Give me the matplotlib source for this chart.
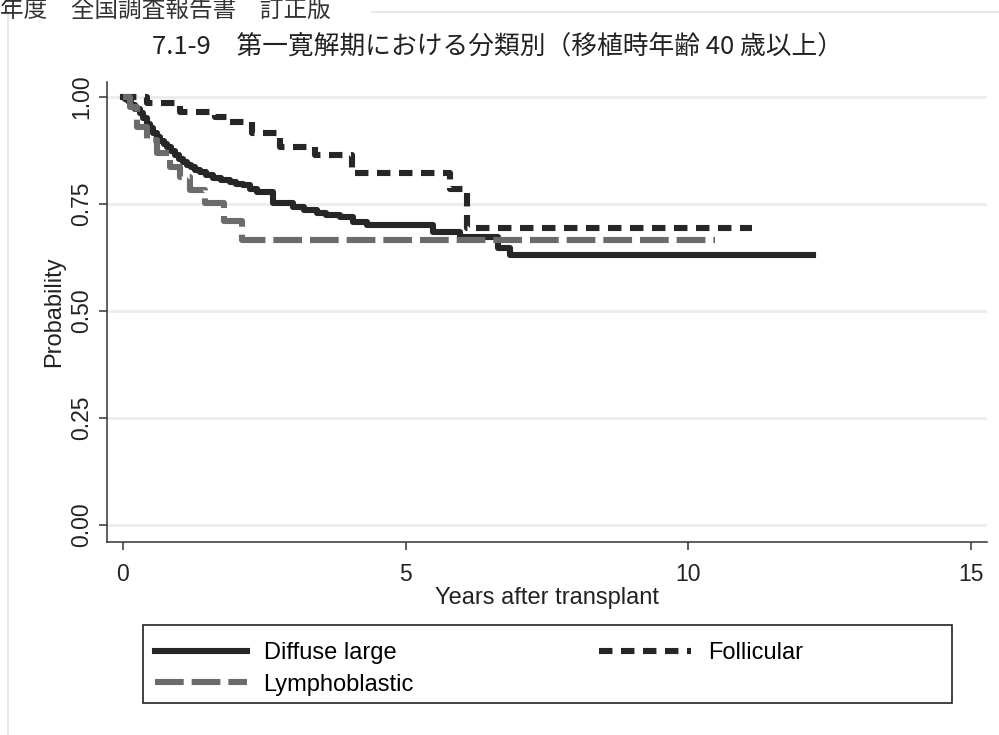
import matplotlib
matplotlib.use("Agg")
import matplotlib.pyplot as plt
from matplotlib.lines import Line2D
from matplotlib.patches import Rectangle

plt.rcParams["font.family"] = ["Liberation Sans", "DejaVu Sans"]
CJK = ["Noto Sans CJK JP", "DejaVu Sans"]

# Kaplan-Meier step data (years, probability)
diffuse_t = [0, 0.04, 0.08, 0.15, 0.22, 0.30, 0.36, 0.42, 0.48, 0.53, 0.60,
             0.66, 0.72, 0.78, 0.85, 0.92, 0.99, 1.06, 1.13, 1.20, 1.28,
             1.36, 1.47, 1.59, 1.74, 1.89, 2.00, 2.12, 2.25, 2.37, 2.65,
             3.01, 3.20, 3.43, 3.60, 3.84, 4.07, 4.32, 5.49, 5.96, 6.64,
             6.85]
diffuse_s = [1.0, 0.996, 0.990, 0.982, 0.973, 0.963, 0.950, 0.938, 0.927,
             0.916, 0.906, 0.897, 0.890, 0.883, 0.873, 0.864, 0.856, 0.848,
             0.842, 0.836, 0.830, 0.825, 0.818, 0.811, 0.806, 0.801, 0.797,
             0.794, 0.786, 0.778, 0.752, 0.743, 0.737, 0.729, 0.724, 0.720,
             0.708, 0.702, 0.685, 0.673, 0.647, 0.631]
diffuse_end = 12.21

follicular_t = [0, 0.42, 1.01, 1.63, 1.84, 2.28, 2.78, 3.40, 4.05, 5.79, 6.09]
follicular_s = [1.0, 0.986, 0.965, 0.953, 0.942, 0.916, 0.883, 0.864, 0.822,
                0.785, 0.694]
follicular_end = 11.13

lympho_t = [0, 0.12, 0.25, 0.42, 0.60, 0.83, 1.01, 1.19, 1.45, 1.79, 2.11]
lympho_s = [1.0, 0.977, 0.930, 0.900, 0.869, 0.836, 0.813, 0.783, 0.752,
            0.710, 0.667]
lympho_end = 10.48

x_ticks = [0, 5, 10, 15]
y_ticks = [0.0, 0.25, 0.5, 0.75, 1.0]
y_ticklabels = ["0.00", "0.25", "0.50", "0.75", "1.00"]

W, H = 999, 735
fig = plt.figure(figsize=(W / 100, H / 100), dpi=100)
ax = fig.add_axes([107 / W, 1 - 542 / H, 880 / W, 460 / H])

dark = "#262626"
gray = "#6b6b6b"


def km(t, s, end, **kw):
    return ax.step(t + [end], s + [s[-1]], where="post", **kw)[0]


l_diff = km(diffuse_t, diffuse_s, diffuse_end, color=dark, lw=4.4,
            solid_joinstyle="round", label="Diffuse large")
l_foll = km(follicular_t, follicular_s, follicular_end, color=dark, lw=4.4,
            dashes=(2.2, 1.4), dash_capstyle="butt", label="Follicular")
l_lymp = km(lympho_t, lympho_s, lympho_end, color=gray, lw=4.4,
            dashes=(4.7, 1.3), dash_capstyle="butt", label="Lymphoblastic")

ax.set_xlim(-0.283, 15.29)
ax.set_ylim(-0.0397, 1.035)
ax.set_xticks(x_ticks)
ax.set_yticks(y_ticks)
ax.set_yticklabels(y_ticklabels, rotation=90, va="center")
ax.tick_params(axis="both", direction="out", length=6, width=1.1,
               color="#333333", labelsize=16.5, labelcolor="#222222")
ax.tick_params(axis="x", pad=9)
ax.tick_params(axis="y", pad=4)
ax.grid(axis="y", color="#ececec", lw=2)
ax.set_axisbelow(True)
for side in ("top", "right"):
    ax.spines[side].set_visible(False)
for side in ("left", "bottom"):
    ax.spines[side].set_color("#333333")
    ax.spines[side].set_linewidth(1.1)

ax.set_xlabel("Years after transplant", fontsize=17, color="#222222")
ax.xaxis.set_label_coords(0.5, -0.098)
ax.set_ylabel("Probability", fontsize=17, color="#222222")
ax.yaxis.set_label_coords(-0.048, 0.5)

# legend: frame drawn separately so it spans the same width as the reference
fig.patches.append(Rectangle((143 / W, 1 - 703 / H), 809 / W, 78 / H,
                             transform=fig.transFigure, fill=False,
                             edgecolor="#222222", lw=1.2))
fig.legend(handles=[l_diff, l_lymp, l_foll], ncol=2, frameon=False,
           loc="center left", bbox_to_anchor=(155 / W, 1 - 669 / H),
           borderpad=0, borderaxespad=0, fontsize=17, handlelength=3.9,
           handletextpad=0.7, columnspacing=7.85, labelspacing=0.4)

fig.suptitle("7.1-9　第一寛解期における分類別（移植時年齢 40 歳以上）",
             x=498 / W, y=1 - 47 / H, va="center", fontsize=18.5,
             family=CJK, color="#222222")

# page header and border from the scanned report
fig.text(0.0, 1 - 17 / H, "年度　全国調査報告書　訂正版", fontsize=17,
         family=CJK, va="baseline", color="#333333")
fig.add_artist(Line2D([8 / W, 8 / W], [0, 1 - 12 / H], color="#e4e4e4",
                      lw=1.2, transform=fig.transFigure))
fig.add_artist(Line2D([372 / W, 1], [1 - 12 / H, 1 - 12 / H],
                      color="#e4e4e4", lw=1.2, transform=fig.transFigure))

fig.savefig("out.png", dpi=100)
